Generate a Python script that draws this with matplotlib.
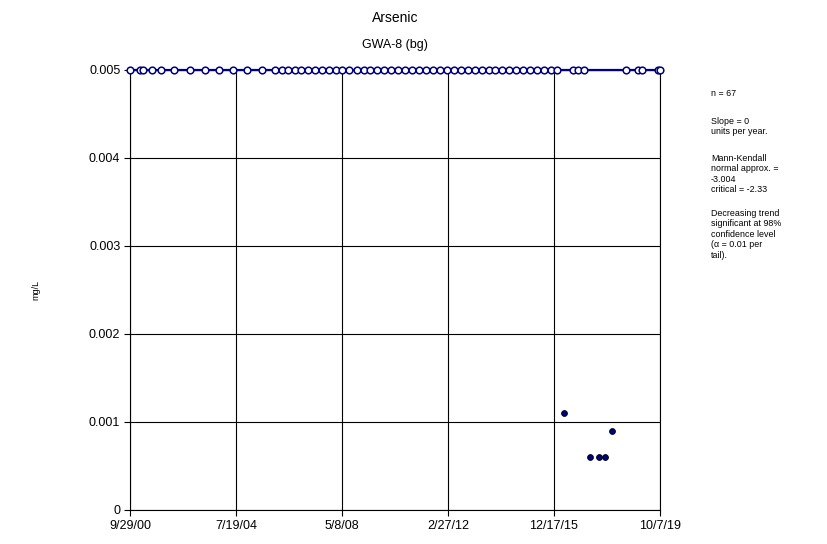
import numpy as np
import pandas as pd
import matplotlib
matplotlib.use("Agg")
import matplotlib.pyplot as plt

plt.rcParams["font.family"] = ["Liberation Sans", "DejaVu Sans"]

# non-detects plotted at the reporting limit (open circles)
nd_dates = [
    "2000-10-01", "2001-02-05", "2001-03-20", "2001-07-12", "2001-11-10",
    "2002-04-25", "2002-11-25", "2003-06-10", "2003-12-10", "2004-06-10",
    "2004-12-10", "2005-06-25", "2005-12-10", "2006-03-10", "2006-05-30",
    "2006-09-01", "2006-11-20",
    "2007-02-15", "2007-05-15", "2007-08-15", "2007-11-15",
    "2008-02-15", "2008-05-15", "2008-08-15", "2008-11-15",
    "2009-02-15", "2009-05-15", "2009-08-15", "2009-11-15",
    "2010-02-15", "2010-05-15", "2010-08-15", "2010-11-15",
    "2011-02-15", "2011-05-15", "2011-08-15", "2011-11-15",
    "2012-02-15", "2012-05-15", "2012-08-15", "2012-11-15",
    "2013-02-15", "2013-05-15", "2013-08-15",
    "2013-11-10", "2014-02-10", "2014-05-10", "2014-08-10", "2014-11-10",
    "2015-02-10", "2015-05-10", "2015-08-10", "2015-11-10", "2016-01-25",
    "2016-08-20", "2016-10-25", "2017-01-10",
    "2018-07-15", "2018-12-25", "2019-02-10", "2019-09-10", "2019-10-05",
]
nd_values = [0.005] * len(nd_dates)

# detected results (filled dots)
det_dates = ["2016-04-25", "2017-04-01", "2017-07-25", "2017-10-15", "2018-01-15"]
det_values = [0.0011, 0.0006, 0.0006, 0.0006, 0.0009]

x_ticks = ["2000-09-29", "2004-07-19", "2008-05-08", "2012-02-27", "2015-12-17", "2019-10-07"]
x_tick_labels = ["9/29/00", "7/19/04", "5/8/08", "2/27/12", "12/17/15", "10/7/19"]
y_ticks = [0, 0.001, 0.002, 0.003, 0.004, 0.005]
y_tick_labels = ["0", "0.001", "0.002", "0.003", "0.004", "0.005"]

stats_blocks = [
    "n = 67",
    "Slope = 0\nunits per year.",
    "Mann-Kendall\nnormal approx. =\n-3.004\ncritical = -2.33",
    "Decreasing trend\nsignificant at 98%\nconfidence level\n(\u03b1 = 0.01 per\ntail).",
]
stats_tops = [89, 117, 154, 209]  # pixel rows from the top

navy = "#000080"

fig = plt.figure(figsize=(8.27, 5.44), dpi=100)
ax = fig.add_axes([130 / 827, 1 - 510 / 544, 530 / 827, 440 / 544])

nd_x = pd.to_datetime(nd_dates)
det_x = pd.to_datetime(det_dates)

ax.plot(nd_x, nd_values, color=navy, lw=1.6, marker="o", ms=4.8,
        mfc="white", mec=navy, mew=1.1, clip_on=False, zorder=4)
ax.plot(det_x, det_values, ls="none", marker="o", ms=4.2,
        mfc=navy, mec="black", mew=0.6, clip_on=False, zorder=4)

tick_x = pd.to_datetime(x_ticks)
ax.set_xlim(tick_x[0], tick_x[-1])
ax.set_xticks(tick_x)
ax.set_xticklabels(x_tick_labels, fontsize=9)
ax.set_ylim(0, 0.005)
ax.set_yticks(y_ticks)
ax.set_yticklabels(y_tick_labels, fontsize=9)
ax.grid(True, color="black", lw=0.8)
ax.set_axisbelow(True)
for s in ax.spines.values():
    s.set_color("black")
    s.set_linewidth(0.8)
ax.tick_params(direction="out", length=4, width=0.8, pad=3)

ax.set_ylabel("mg/L", fontsize=6.5, labelpad=35)
fig.text(395 / 827, 1 - 18 / 544, "Arsenic", ha="center", va="center", fontsize=10)
fig.text(395 / 827, 1 - 45 / 544, "GWA-8 (bg)", ha="center", va="center", fontsize=9)
for block, top in zip(stats_blocks, stats_tops):
    fig.text(711 / 827, 1 - top / 544, block, ha="left", va="top",
             fontsize=6.4, linespacing=1.2)

fig.savefig("out.png", dpi=100)
